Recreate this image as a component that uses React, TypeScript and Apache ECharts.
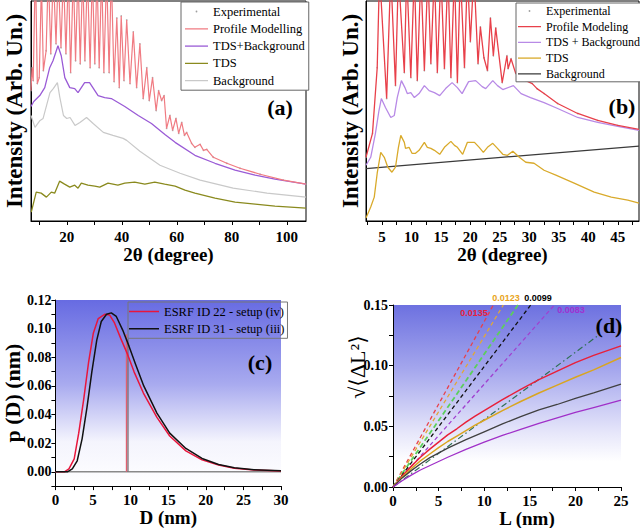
import React, { useEffect, useRef } from "react";
import * as echarts from "echarts";

const SERIF = "'Liberation Serif', 'Times New Roman', 'DejaVu Serif', serif";
const SANS = "'Liberation Sans', Arial, 'DejaVu Sans', sans-serif";

// ---------- Panel (a) ----------
const A_X_TICKS = [10, 20, 30, 40, 50, 60, 70, 80, 90, 100];
const A_X_LABELS = [20, 40, 60, 80, 100];
const A_PROFILE: number[][] = [
  [7.0, 131], [7.4, 154], [7.8, 141], [8.6, 260], [9.3, 138], [10.0, 144], [10.8, 240], [11.5, 151],
  [12.5, 171], [13.3, 250], [14.2, 168], [15.1, 250], [16.1, 178], [16.9, 250], [17.9, 174], [18.8, 250],
  [19.7, 168], [20.6, 250], [21.4, 149], [22.4, 250], [23.2, 161], [24.1, 250], [24.9, 158], [25.8, 250],
  [26.6, 161], [27.5, 250], [28.5, 154], [29.3, 250], [30.2, 158], [31.0, 250], [31.8, 154], [32.7, 250],
  [33.5, 149], [34.5, 250], [35.4, 149], [36.2, 250], [37.2, 140], [38.2, 204], [39.1, 134], [39.8, 206],
  [40.8, 141], [41.8, 202], [43.0, 138], [44.2, 190], [45.4, 134], [46.6, 178], [47.8, 123], [49.1, 154],
  [50.0, 121], [51.2, 144], [52.5, 111], [53.4, 131], [54.5, 121], [55.4, 126], [56.3, 93], [57.5, 106],
  [58.5, 91], [59.7, 103], [60.7, 88], [61.8, 99], [62.8, 86], [63.6, 89], [65.4, 78], [66.6, 74],
  [68.5, 77], [69.7, 71], [70.9, 72], [73.3, 64], [78.2, 58], [83.0, 53], [90.3, 47], [98.8, 41], [107, 37],
];
const A_TDSBG: number[][] = [
  [7, 115], [8.0, 120], [9.1, 123], [10.2, 126], [12, 134], [13.8, 154], [15, 161], [16.8, 176], [18, 166],
  [19.3, 144], [21.1, 134], [22.9, 133], [24.1, 129], [26.5, 139], [28.3, 139], [31.4, 126], [33.8, 124],
  [36.2, 123], [41.1, 115], [46, 106], [50.8, 98], [55.7, 87], [59.4, 79], [66.6, 66], [73.9, 58],
  [81.2, 51], [88.5, 46], [95.7, 42], [107, 37],
];
const A_TDS: number[][] = [
  [7.1, 9], [8.9, 29], [10.7, 28], [12.6, 24], [14.4, 29], [15.6, 28], [17.4, 40], [19.2, 37], [21.1, 34],
  [22.9, 36], [24.1, 33], [25.3, 38], [27.7, 36], [30.2, 35], [32, 34], [35, 38], [38.6, 36], [41.1, 38],
  [44.7, 39], [48.4, 37], [52, 39], [55.6, 37], [59.4, 35], [63, 31], [66.6, 28], [73.9, 23], [81.2, 19],
  [88.5, 17], [95.7, 15], [107, 13],
];
const A_BACKGROUND: number[][] = [
  [7, 106], [8.45, 94], [10.3, 101], [11.4, 103], [13.9, 129], [15.1, 133], [16.6, 139], [17.5, 124],
  [18.8, 106], [20, 103], [21.2, 104], [23, 96], [24.8, 99], [27.2, 104], [29.6, 98], [33.3, 89],
  [36.8, 86], [40.5, 83], [41.8, 81], [46.6, 70], [53.9, 56], [61.2, 48], [68.5, 41], [80.5, 33],
  [92.8, 28], [107, 24],
];

// ---------- Panel (b) ----------
const B_X_TICKS = [2.5, 5, 7.5, 10, 12.5, 15, 17.5, 20, 22.5, 25, 27.5, 30, 32.5, 35, 37.5, 40, 42.5, 45, 47.5];
const B_X_LABELS = [5, 10, 15, 20, 25, 30, 35, 40, 45];
const B_PROFILE: number[][] = [
  [2.3, 64], [3.4, 88], [4.2, 154], [4.6, 250], [5.8, 123], [6.5, 250], [7.3, 136], [7.8, 250], [8.8, 149],
  [9.2, 250], [9.9, 144], [10.5, 250], [11.0, 141], [11.6, 250], [12.2, 151], [12.8, 250], [13.3, 158],
  [13.9, 250], [14.4, 149], [15.0, 250], [15.6, 153], [16.2, 250], [16.7, 144], [17.3, 250], [17.8, 139],
  [18.3, 250], [19.0, 154], [19.5, 250], [20.0, 180], [20.6, 250], [21.3, 158], [21.7, 195], [22.3, 164],
  [22.9, 151], [23.4, 204], [23.9, 166], [24.3, 194], [25.4, 139], [26.2, 166], [26.4, 153], [26.9, 163],
  [27.7, 148], [28.3, 158], [29.4, 141], [30.5, 138], [31.3, 133], [32.5, 128], [34.8, 118], [38.2, 108],
  [41.6, 101], [45.0, 96], [48.6, 92],
];
const B_TDSBG: number[][] = [
  [2.3, 56], [3.1, 64], [3.9, 88], [4.5, 111], [4.9, 123], [5.6, 114], [6.5, 104], [7.1, 106], [7.6, 124],
  [8.3, 141], [8.9, 134], [9.3, 128], [9.9, 129], [10.5, 124], [11.3, 128], [12.2, 136], [13.0, 131],
  [13.9, 129], [14.8, 126], [15.8, 133], [16.9, 139], [17.8, 134], [18.6, 128], [19.7, 140], [20.9, 141],
  [22.0, 135], [22.6, 133], [23.8, 141], [24.6, 136], [25.5, 132], [27.3, 136], [28.6, 128], [30.2, 124],
  [32.5, 119], [34.8, 113], [38.2, 104], [41.6, 99], [45.0, 95], [48.6, 91],
];
const B_TDS: number[][] = [
  [2.3, 3], [3.1, 14], [3.7, 24], [4.2, 48], [4.8, 69], [5.4, 64], [6.0, 54], [6.7, 49], [7.3, 54], [7.8, 74],
  [8.2, 86], [8.8, 79], [9.0, 73], [9.6, 74], [10.1, 68], [10.7, 68], [11.3, 71], [12.2, 79], [12.7, 74],
  [13.3, 73], [13.9, 71], [14.8, 67], [15.6, 74], [16.7, 80], [17.3, 76], [17.8, 74], [18.7, 67], [19.5, 79],
  [20.7, 79], [21.5, 74], [22.2, 69], [22.9, 74], [23.8, 78], [24.6, 73], [25.5, 67], [26.3, 66], [27.2, 70],
  [28.3, 64], [29.4, 59], [30.8, 58], [32.5, 51], [34.5, 46], [37.6, 38], [41.0, 29], [43.9, 24], [46.7, 21],
  [48.6, 18],
];
const B_BACKGROUND: number[][] = [[2.3, 52.7], [48.6, 75.3]];

// ---------- Panel (c) ----------
const C_X_TICKS = [0, 2.5, 5, 7.5, 10, 12.5, 15, 17.5, 20, 22.5, 25, 27.5, 30];
const C_X_LABELS = [0, 5, 10, 15, 20, 25, 30];
const C_Y_TICKS = [-0.01, 0, 0.01, 0.02, 0.03, 0.04, 0.05, 0.06, 0.07, 0.08, 0.09, 0.1, 0.11, 0.12];
const C_Y_LABELS = [0, 0.02, 0.04, 0.06, 0.08, 0.1, 0.12];
const C_ID22: number[][] = [
  [0, 0], [1.2, 0], [1.8, 0.002], [2.5, 0.009], [3.1, 0.027], [3.75, 0.05], [4.4, 0.076], [5.05, 0.097],
  [5.7, 0.107], [6.55, 0.11], [7.2, 0.1096], [7.86, 0.104], [8.7, 0.093], [9.6, 0.082], [10.45, 0.07],
  [11.7, 0.055], [13.5, 0.038], [15.2, 0.025], [17.35, 0.0146], [19.5, 0.0083], [21.7, 0.0047],
  [23.8, 0.0024], [26.4, 0.0012], [30, 0.0005],
];
const C_ID31: number[][] = [
  [0, 0], [1.6, 0], [2.25, 0.002], [2.9, 0.0077], [3.55, 0.023], [4.2, 0.045], [4.85, 0.07], [5.5, 0.092],
  [6.1, 0.105], [6.8, 0.11], [7.43, 0.111], [8.1, 0.1085], [8.95, 0.099], [9.8, 0.0876], [10.67, 0.075],
  [11.75, 0.06], [13.5, 0.041], [15.2, 0.027], [17.35, 0.0163], [19.5, 0.0093], [21.7, 0.0051],
  [23.8, 0.0028], [26.4, 0.0014], [30, 0.0007],
];
const C_BASELINE: number[][] = [[0, 0], [30, 0]];
const C_MEAN_ID22: number[][] = [[9.45, 0], [9.45, 0.096]];
const C_MEAN_ID31: number[][] = [[9.65, 0], [9.65, 0.093]];

// ---------- Panel (d) ----------
const D_X_TICKS = [0, 2.5, 5, 7.5, 10, 12.5, 15, 17.5, 20, 22.5, 25];
const D_X_LABELS = [0, 5, 10, 15, 20, 25];
const D_Y_TICKS = [0, 0.025, 0.05, 0.075, 0.1, 0.125, 0.15];
const D_Y_LABELS = [0, 0.05, 0.1, 0.15];
const D_RED: number[][] = [
  [0, 0], [1, 0.009], [2, 0.017], [3, 0.0245], [4, 0.031], [5, 0.037], [6, 0.043], [7, 0.048], [8, 0.0535],
  [9, 0.0585], [10, 0.063], [12, 0.072], [14, 0.0805], [16, 0.0885], [18, 0.0955], [20, 0.1025],
  [22, 0.1085], [25, 0.1163],
];
const D_ORANGE: number[][] = [
  [0, 0], [1, 0.008], [2, 0.015], [3, 0.0215], [4, 0.027], [5, 0.0325], [6, 0.0375], [7, 0.042], [8, 0.0465],
  [9, 0.051], [10, 0.055], [12, 0.063], [14, 0.0705], [16, 0.0775], [18, 0.084], [20, 0.0905],
  [22, 0.0965], [25, 0.1067],
];
const D_GRAY: number[][] = [
  [0, 0], [1, 0.0075], [2, 0.0135], [3, 0.019], [4, 0.024], [6, 0.032], [8, 0.039], [10, 0.0455],
  [12, 0.052], [14, 0.058], [16, 0.0635], [18, 0.068], [20, 0.073], [22, 0.0775], [25, 0.0848],
];
const D_PURPLE: number[][] = [
  [0, 0], [1, 0.0052], [2, 0.0098], [3, 0.014], [4, 0.0175], [6, 0.0245], [8, 0.031], [10, 0.037],
  [12, 0.0425], [14, 0.0475], [16, 0.0525], [18, 0.057], [20, 0.0615], [22, 0.0655], [25, 0.0715],
];
const D_RED_DASH: number[][] = [[0, 0], [11.0, 0.15]];
const D_ORANGE_DASH: number[][] = [[0, 0], [12.1, 0.15]];
const D_GREEN_DASH: number[][] = [[0, 0], [13.7, 0.15]];
const D_BLACK_DASH: number[][] = [[0, 0], [15.1, 0.15]];
const D_PURPLE_DASH: number[][] = [[0, 0], [17.7, 0.15]];
const D_GREEN_DASHDOT: number[][] = [[0, 0], [22.7, 0.126]];
const D_SLOPES = ["0.0135", "0.0123", "0.0099", "0.0083"];

function svgIcon(inner: string, w: number) {
  return (
    "image://data:image/svg+xml;utf8," +
    encodeURIComponent(`<svg xmlns="http://www.w3.org/2000/svg" width="${w}" height="10" viewBox="0 0 ${w} 10">${inner}</svg>`)
  );
}
const dotIcon = (w: number) => svgIcon(`<circle cx="${w / 2}" cy="5" r="0.9" fill="#888"/>`, w);
const lineIcon = (color: string, w: number, sw = 1.3) =>
  svgIcon(`<line x1="0" y1="5" x2="${w}" y2="5" stroke="${color}" stroke-width="${sw}"/>`, w);

const bold = { fontFamily: SERIF, fontWeight: "bold" as const, color: "#000" };
const black = { color: "#000", width: 1 };

function xAx(gi: number, min: number, max: number, ticks: number[], labels: number[], extra: any) {
  return {
    type: "value", gridIndex: gi, min, max,
    axisLine: { show: true, onZero: false, lineStyle: black },
    axisTick: { show: true, length: 4, customValues: ticks, lineStyle: black },
    axisLabel: { customValues: labels, fontSize: 15, ...bold, ...(extra.label || {}) },
    splitLine: { show: false },
    ...(extra.axis || {}),
  };
}
function yAx(gi: number, min: number, max: number, extra: any) {
  return {
    type: "value", gridIndex: gi, min, max,
    axisLine: { show: true, onZero: false, lineStyle: black },
    axisTick: { show: false },
    axisLabel: { show: false },
    splitLine: { show: false },
    ...extra,
  };
}
function line(name: string, data: number[][], xi: number, color: string, width = 1.3, type: any = "solid", z = 2) {
  return {
    type: "line", name, data, xAxisIndex: xi, yAxisIndex: xi, showSymbol: false, symbol: "none",
    lineStyle: { color, width, type }, itemStyle: { color }, z, clip: true, silent: true,
  };
}
function scatter(name: string, data: number[][], xi: number) {
  return {
    type: "scatter", name, data, xAxisIndex: xi, yAxisIndex: xi, symbolSize: 1.6,
    itemStyle: { color: "#999" }, z: 1, clip: true, silent: true,
  };
}

function buildOption() {
  const gradC = new echarts.graphic.LinearGradient(0, 0, 0, 1, [
    { offset: 0, color: "#676be2" }, { offset: 0.45, color: "#a8aaef" },
    { offset: 0.76, color: "#f4f4fd" }, { offset: 1, color: "#ffffff" },
  ]);
  const gradD = new echarts.graphic.LinearGradient(0, 0, 0, 1, [
    { offset: 0, color: "#6d71e0" }, { offset: 0.35, color: "#a4a6ed" },
    { offset: 0.7, color: "#e6e6fa" }, { offset: 0.86, color: "#ffffff" }, { offset: 1, color: "#ffffff" },
  ]);
  const legendText = { fontFamily: SERIF, fontSize: 12.5, color: "#000" };
  return {
    animation: false,
    backgroundColor: "#ffffff",
    textStyle: { fontFamily: SERIF },
    grid: [
      { left: 31, top: 1, width: 275, height: 220, show: true, borderColor: "#000", borderWidth: 1, backgroundColor: "transparent" },
      { left: 366, top: 1, width: 273, height: 220, show: true, borderColor: "#000", borderWidth: 1, backgroundColor: "transparent" },
      { left: 49, top: 300, width: 232, height: 187, show: true, borderWidth: 0, borderColor: "transparent", backgroundColor: gradC },
      { left: 393, top: 305, width: 228, height: 182, show: true, borderWidth: 0, borderColor: "transparent", backgroundColor: gradD },
    ],
    xAxis: [
      xAx(0, 7, 107, A_X_TICKS, A_X_LABELS, {
        label: { margin: 8 },
        axis: { name: "2θ (degree)", nameLocation: "middle", nameGap: 19, nameTextStyle: { fontSize: 19, ...bold } },
      }),
      xAx(1, 2.3, 48.6, B_X_TICKS, B_X_LABELS, {
        label: { margin: 8 },
        axis: { name: "2θ (degree)", nameLocation: "middle", nameGap: 19, nameTextStyle: { fontSize: 19, ...bold } },
      }),
      xAx(2, 0, 30, C_X_TICKS, C_X_LABELS, {
        label: { margin: 6 },
        axis: { name: "D (nm)", nameLocation: "middle", nameGap: 20, nameTextStyle: { fontSize: 19, ...bold } },
      }),
      xAx(3, 0, 25, D_X_TICKS, D_X_LABELS, { label: { margin: 6 } }),
    ],
    yAxis: [
      yAx(0, 0, 221, { name: "Intensity (Arb. Un.)", nameLocation: "middle", nameGap: 5, nameRotate: 90, nameTextStyle: { fontSize: 23, ...bold } }),
      yAx(1, 0, 221, { name: "Intensity (Arb. Un.)", nameLocation: "middle", nameGap: 4, nameRotate: 90, nameTextStyle: { fontSize: 23, ...bold } }),
      yAx(2, -0.01, 0.12, {
        axisTick: { show: true, length: 4, customValues: C_Y_TICKS, lineStyle: black },
        axisLabel: { show: true, customValues: C_Y_LABELS, fontSize: 14, margin: 4, ...bold, formatter: (v: number) => v.toFixed(2) },
        name: "p (D) (nm)", nameLocation: "middle", nameGap: 26, nameRotate: 90, nameTextStyle: { fontSize: 22, ...bold },
      }),
      yAx(3, 0, 0.15, {
        axisTick: { show: true, length: 4, customValues: D_Y_TICKS, lineStyle: black },
        axisLabel: { show: true, customValues: D_Y_LABELS, fontSize: 14, margin: 5, ...bold, formatter: (v: number) => v.toFixed(2) },
      }),
    ],
    legend: [
      {
        left: 181, top: 2, orient: "vertical", itemWidth: 23, itemHeight: 10, itemGap: 4.3,
        padding: [3, 4, 3, 4], borderColor: "#666", borderWidth: 1, backgroundColor: "#fff",
        textStyle: legendText, selectedMode: false,
        data: [
          { name: "Experimental", icon: dotIcon(23) },
          { name: "Profile Modelling", icon: lineIcon("#f07b82", 23) },
          { name: "TDS+Background", icon: lineIcon("#9a5bd6", 23) },
          { name: "TDS", icon: lineIcon("#8a8a1e", 23) },
          { name: "Background", icon: lineIcon("#c9c9c9", 23) },
        ],
      },
      {
        left: 516, top: 3, orient: "vertical", itemWidth: 23, itemHeight: 10, itemGap: 3.7,
        padding: [2, 2, 2, 2], borderColor: "#666", borderWidth: 1, backgroundColor: "#fff",
        textStyle: { ...legendText, fontSize: 12 }, selectedMode: false,
        data: [
          { name: "Experimental", icon: dotIcon(23) },
          { name: "Profile Modeling", icon: lineIcon("#e8404a", 23) },
          { name: "TDS + Background", icon: lineIcon("#b88ae6", 23) },
          { name: "TDS", icon: lineIcon("#d9aa2b", 23) },
          { name: "Background", icon: lineIcon("#3a3a3a", 23) },
        ],
      },
      {
        left: 128, top: 302, orient: "vertical", itemWidth: 30, itemHeight: 10, itemGap: 4.3,
        padding: [3, 3, 3, 1], borderColor: "#777", borderWidth: 1, backgroundColor: "transparent",
        textStyle: legendText, selectedMode: false,
        data: [
          { name: "ESRF ID 22 - setup (iv)", icon: lineIcon("#e8163c", 30, 1.5) },
          { name: "ESRF ID 31 - setup (iii)", icon: lineIcon("#111111", 30, 1.5) },
        ],
      },
    ],
    series: [
      scatter("Experimental", A_PROFILE, 0),
      line("Background", A_BACKGROUND, 0, "#c9c9c9", 1.2),
      line("TDS", A_TDS, 0, "#8a8a1e", 1.3),
      line("TDS+Background", A_TDSBG, 0, "#9a5bd6", 1.3),
      line("Profile Modelling", A_PROFILE, 0, "#f07b82", 1.2, "solid", 3),

      scatter("Experimental", B_PROFILE, 1),
      line("Background", B_BACKGROUND, 1, "#3a3a3a", 1.2),
      line("TDS", B_TDS, 1, "#d9aa2b", 1.3),
      line("TDS + Background", B_TDSBG, 1, "#b88ae6", 1.3),
      line("Profile Modeling", B_PROFILE, 1, "#e8404a", 1.3, "solid", 3),

      line("baseline", C_BASELINE, 2, "#8a8a8a", 1.5),
      line("mean ID22", C_MEAN_ID22, 2, "#e06070", 1.3),
      line("mean ID31", C_MEAN_ID31, 2, "#7a6a70", 1.3),
      line("ESRF ID 22 - setup (iv)", C_ID22, 2, "#e8163c", 1.5, "solid", 3),
      line("ESRF ID 31 - setup (iii)", C_ID31, 2, "#111111", 1.5, "solid", 3),

      line("red dashed", D_RED_DASH, 3, "#e8404a", 1.3, [4, 3]),
      line("orange dashed", D_ORANGE_DASH, 3, "#e0a838", 1.3, [4, 3]),
      line("green dashed", D_GREEN_DASH, 3, "#5ccf5c", 1.8, [5, 3]),
      line("black dashed", D_BLACK_DASH, 3, "#111111", 1.3, [4, 3]),
      line("purple dashed", D_PURPLE_DASH, 3, "#a040d0", 1.3, [4, 3]),
      line("green dash-dot", D_GREEN_DASHDOT, 3, "#2f6f55", 1.2, [6, 3, 1.5, 3]),
      line("red", D_RED, 3, "#e8203a", 1.5),
      line("orange", D_ORANGE, 3, "#d9a520", 1.5),
      line("gray", D_GRAY, 3, "#404040", 1.3),
      line("purple", D_PURPLE, 3, "#a030c8", 1.3),
    ],
    graphic: [
      { type: "text", x: 280, y: 107, z: 100, style: { text: "(a)", font: `bold 22px ${SERIF}`, fill: "#000", align: "center", verticalAlign: "middle" } },
      { type: "text", x: 622, y: 106, z: 100, style: { text: "(b)", font: `bold 22px ${SERIF}`, fill: "#000", align: "center", verticalAlign: "middle" } },
      { type: "text", x: 260, y: 362, z: 100, style: { text: "(c)", font: `bold 22px ${SERIF}`, fill: "#000", align: "center", verticalAlign: "middle" } },
      { type: "text", x: 609, y: 325, z: 100, style: { text: "(d)", font: `bold 22px ${SERIF}`, fill: "#000", align: "center", verticalAlign: "middle" } },
      { type: "text", x: 474, y: 313, z: 100, style: { text: D_SLOPES[0], font: `bold 9px ${SANS}`, fill: "#e8203a", align: "center", verticalAlign: "middle" } },
      { type: "text", x: 506, y: 298, z: 100, style: { text: D_SLOPES[1], font: `bold 9px ${SANS}`, fill: "#e8a420", align: "center", verticalAlign: "middle" } },
      { type: "text", x: 538, y: 298, z: 100, style: { text: D_SLOPES[2], font: `bold 9px ${SANS}`, fill: "#000", align: "center", verticalAlign: "middle" } },
      { type: "text", x: 571, y: 310, z: 100, style: { text: D_SLOPES[3], font: `bold 9px ${SANS}`, fill: "#a030d0", align: "center", verticalAlign: "middle" } },
      { type: "text", x: 527, y: 518, z: 100, style: { text: "L (nm)", font: `bold 19px ${SERIF}`, fill: "#000", align: "center", verticalAlign: "middle" } },
      { type: "text", x: 357, y: 367, z: 100, rotation: Math.PI / 2, style: { text: "√⟨ΔL²⟩", font: `22px ${SERIF}`, fill: "#000", align: "center", verticalAlign: "middle" } },
    ],
  };
}

export default function App() {
  const ref = useRef<HTMLDivElement>(null);
  useEffect(() => {
    if (!ref.current) return;
    const chart = echarts.init(ref.current, null, { renderer: "svg" });
    chart.setOption(buildOption() as any);
    return () => chart.dispose();
  }, []);
  return <div ref={ref} style={{ position: "fixed", left: 0, top: 0, width: 640, height: 528, background: "#fff" }} />;
}
